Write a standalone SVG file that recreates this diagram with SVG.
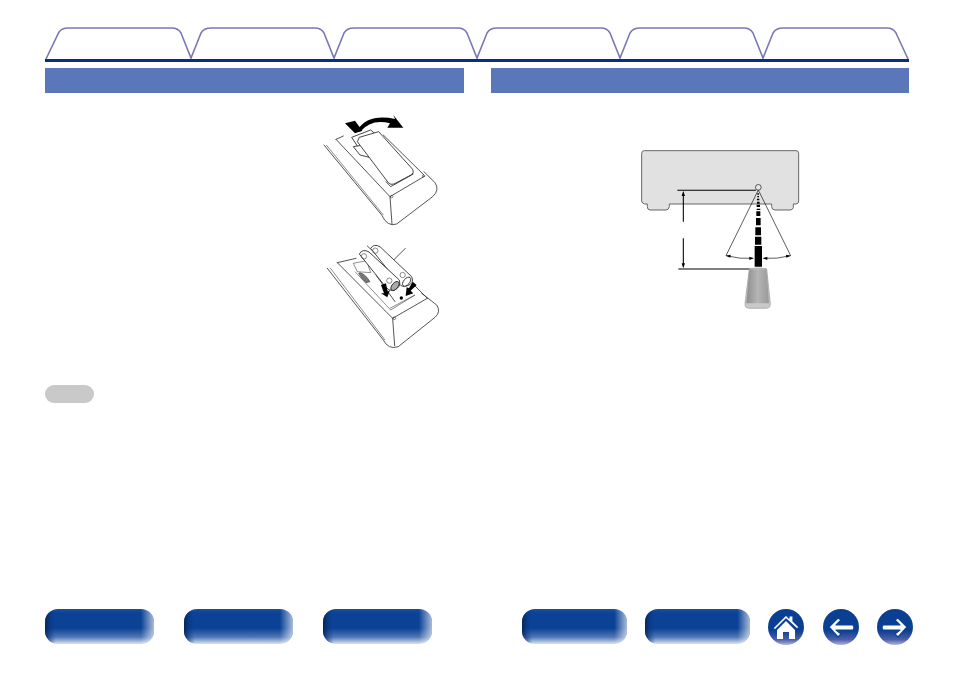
<svg xmlns="http://www.w3.org/2000/svg" width="954" height="673" viewBox="0 0 954 673">
<style>
.tab{fill:#fff;stroke:#7a78b4;stroke-width:1.6}
.bar{fill:#5a78b9}
.l{fill:none;stroke:#2a2a2a;stroke-width:2.4;stroke-linejoin:round;stroke-linecap:round}
.t{fill:none;stroke:#2a2a2a;stroke-width:1.6;stroke-linejoin:round}
.w{fill:#fff;stroke:#2a2a2a;stroke-width:2.6;stroke-linejoin:round}
.k{fill:#000}
.ic{fill:#fff;stroke:#0b4395;stroke-width:1.2;stroke-linejoin:round}
</style>
<defs>
<linearGradient id="v" x1="0" y1="0" x2="0" y2="1"><stop offset="0" stop-color="#1a4f9c"/><stop offset=".12" stop-color="#0b4296"/><stop offset=".55" stop-color="#0b4296"/><stop offset=".8" stop-color="#4f76b3"/><stop offset="1" stop-color="#dbe3f0"/></linearGradient>
<linearGradient id="h" x1="0" y1="0" x2="1" y2="0"><stop offset="0" stop-color="#04204f" stop-opacity=".85"/><stop offset=".1" stop-color="#0b4296" stop-opacity="0"/><stop offset=".88" stop-color="#fff" stop-opacity="0"/><stop offset="1" stop-color="#fff" stop-opacity=".65"/></linearGradient>
<linearGradient id="c" x1="0" y1="0" x2="0" y2="1"><stop offset="0" stop-color="#0b3f92"/><stop offset=".6" stop-color="#0b3f92"/><stop offset=".85" stop-color="#4d5fa8"/><stop offset="1" stop-color="#b3b5dc"/></linearGradient>
<linearGradient id="r" x1="0" y1="0" x2="1" y2="0"><stop offset="0" stop-color="#8d8d8d"/><stop offset=".5" stop-color="#b5b5b5"/><stop offset="1" stop-color="#999"/></linearGradient>
</defs>

<g id="tabs">
<path class="tab" d="M46,59 L59,32 Q62,28 68,28 L172,28 Q178,28 181,33 L191,58 L201,33 Q204,28 211,28 L315,28 Q321,28 324,33 L334,58 L344,33 Q347,28 354,28 L458,28 Q464,28 467,33 L477,58 L487,33 Q490,28 497,28 L601,28 Q607,28 610,33 L620,58 L630,33 Q633,28 640,28 L744,28 Q750,28 753,33 L763,58 L773,33 Q776,28 783,28 L887,28 Q893,28 896,33 L908,59"/>
<rect x="45" y="59" width="864" height="3" fill="#0a2d80"/>
</g>
<g id="section-left"><rect class="bar" x="45" y="68" width="419" height="25"/></g>
<g id="section-right"><rect class="bar" x="491" y="68" width="418" height="25"/></g>

<g id="remote-cover" transform="translate(300,100) scale(.3333)">
<path class="l" d="M72,135 L245,345 Q262,382 290,372 L398,290 Q420,270 405,248 L372,215"/>
<path class="t" d="M79,135 L250,345"/>
<path class="l" d="M108,118 L130,108 M108,118 L270,290 L375,228 M270,290 L276,372 M250,105 L372,225"/>
<path class="w" d="M155,112 L212,90 L238,112 L180,150 Z"/>
<path class="w" d="M160,140 L190,135 L208,172 L180,165 Z"/>
<path class="w" d="M178,112 L236,95 L338,208 Q343,218 335,224 L282,252 Q272,256 265,248 L172,125 Z"/>
<path class="l" d="M258,245 L272,260 L340,222"/>
<circle cx="275" cy="290" r="4" class="t"/><circle cx="370" cy="228" r="3" class="t"/>
<path class="k" d="M135,70 L165,62 L187,92 L165,100 Z"/>
<path class="k" d="M172,90 Q205,40 285,57 L280,45 L310,83 L262,83 L270,70 Q215,55 180,95 Z"/>
</g>

<g id="remote-batteries" transform="translate(300,230) scale(.3333)">
<path class="l" d="M82,115 L250,330 Q265,360 295,350 L405,262 Q424,245 410,225 L365,190"/>
<path class="t" d="M90,113 L255,330"/>
<path class="l" d="M112,98 L168,85 M112,98 L278,265 L382,205 M278,265 L284,347 M342,165 L382,205"/>
<path class="t" d="M160,100 L200,92 L212,128 L172,125 Z M165,125 L272,240 L345,195"/>
<path d="M180,128 Q196,132 210,155 L198,158 Q184,146 176,130 Z" fill="#777" stroke="#2a2a2a" stroke-width="1.6"/>
<path class="l" d="M228,135 L285,215"/>
<path class="l" d="M202,48 L215,60 M283,88 L316,55"/>
<path class="w" d="M212,55 Q222,40 240,50 L335,140 Q345,160 320,168 Q305,172 298,162 Z"/>
<path class="w" d="M178,72 Q188,55 207,66 L298,150 Q305,172 280,182 Q265,182 258,172 Z"/>
<ellipse cx="320" cy="155" rx="16" ry="9" transform="rotate(-50 320 155)" class="w"/>
<ellipse cx="285" cy="168" rx="16" ry="9" transform="rotate(-50 285 168)" fill="#aaa" stroke="#222" stroke-width="2.6"/>
<circle cx="226" cy="62" r="8" class="t"/><circle cx="192" cy="79" r="8" class="t"/><circle cx="268" cy="152" r="8" class="t"/><circle cx="308" cy="135" r="8" class="t"/>
<path class="k" d="M243,165 L258,160 L263,185 L270,180 L262,202 L243,190 L252,190 Z"/>
<path class="k" d="M338,155 L350,165 L332,182 L340,190 L317,198 L320,172 L327,175 Z"/>
<circle cx="304" cy="204" r="5" class="k"/>
<path class="t" d="M270,235 L345,195"/>
<circle cx="283" cy="265" r="4" class="t"/>
</g>

<g id="note-pill"><rect x="45" y="385" width="49" height="18" rx="9" fill="#c8c9c8"/></g>

<g id="device" transform="translate(630,140) scale(.3333)">
<path d="M35,40 Q35,32 43,32 L498,32 Q506,32 506,40 L506,183 Q506,192 498,192 L490,192 L490,203 Q488,210 480,210 L435,210 Q425,210 425,200 L425,192 L118,192 L118,200 Q116,210 108,210 L60,210 Q52,210 52,200 L52,192 L44,192 Q35,190 35,183 Z" fill="#e1e1e1" stroke="#666" stroke-width="3"/>
<circle cx="385" cy="142" r="8.5" fill="#e8e8e8" stroke="#333" stroke-width="2.4"/>
</g>

<g id="connectors" transform="translate(630,140) scale(.3333)">
<path d="M142,151 L378,151 M145,387 L360,387 M160,158 L160,245 M160,295 L160,380" fill="none" stroke="#000" stroke-width="3.2"/>
<path class="k" d="M160,153 L165,168 L155,168 Z M160,385 L165,370 L155,370 Z"/>
<path d="M385,150 L288,347 M385,150 L482,347" fill="none" stroke="#222" stroke-width="2.2"/>
<path d="M288,347 Q330,358 370,355 M482,347 Q440,358 400,355" fill="none" stroke="#222" stroke-width="2.2"/>
<path class="k" d="M288,347 L302,344 L301,353 Z M482,347 L468,344 L469,353 Z M371,355 L358,350 L358,360 Z M399,355 L412,350 L412,360 Z"/>
<path class="k" d="M382,160 h5 v4 h-5 Z M382,168 h5 v4 h-5 Z M381,176 h7 v5 h-7 Z M381,185 h8 v6 h-8 Z M380,194 h10 v7 h-10 Z M380,206 h11 v4 h-11 Z M379,214 h12 v14 h-12 Z M378,234 h14 v22 h-14 Z M376,262 h17 v24 h-17 Z M375,290 h19 v24 h-19 Z M374,318 h22 v62 h-22 Z"/>
</g>

<g id="remote-front" transform="translate(630,140) scale(.3333)">
<path d="M358,386 Q384,382 410,386 L421,490 Q422,505 408,505 L358,505 Q344,505 345,490 Z" fill="#c9c9c9" stroke="#999" stroke-width="2"/>
<path d="M358,388 L410,388 L417,490 L349,490 Z" fill="url(#r)"/>
</g>

<g id="btn-1"><rect x="45" y="609" width="109" height="35" rx="13" fill="url(#v)"/><rect x="45" y="609" width="109" height="35" rx="13" fill="url(#h)"/></g>
<g id="btn-2"><rect x="184" y="609" width="109" height="35" rx="13" fill="url(#v)"/><rect x="184" y="609" width="109" height="35" rx="13" fill="url(#h)"/></g>
<g id="btn-3"><rect x="323" y="609" width="109" height="35" rx="13" fill="url(#v)"/><rect x="323" y="609" width="109" height="35" rx="13" fill="url(#h)"/></g>
<g id="btn-4"><rect x="522" y="609" width="105" height="35" rx="13" fill="url(#v)"/><rect x="522" y="609" width="105" height="35" rx="13" fill="url(#h)"/></g>
<g id="btn-5"><rect x="645" y="609" width="105" height="35" rx="13" fill="url(#v)"/><rect x="645" y="609" width="105" height="35" rx="13" fill="url(#h)"/></g>

<g id="btn-home"><circle cx="786" cy="627" r="18" fill="url(#c)"/>
<path class="ic" d="M773,628 L786,615 L789,618 L789,616 L793,616 L793,621 L799,627 L797,629 L786,619 L775,630 Z"/>
<path d="M777,630 L786,621 L795,630 L795,639 L789,639 L789,632 L783,632 L783,639 L777,639 Z" fill="#fff"/></g>
<g id="btn-back"><circle cx="841" cy="627" r="18" fill="url(#c)"/>
<path class="ic" d="M829,627 L838,618 L841,620 L836,625 L853,625 Q855,627 853,630 L836,630 L841,634 L838,637 Z"/></g>
<g id="btn-forward"><circle cx="895" cy="627" r="18" fill="url(#c)"/>
<path class="ic" d="M907,627 L898,618 L895,620 L900,625 L883,625 Q881,627 883,630 L900,630 L895,634 L898,637 Z"/></g>
</svg>
